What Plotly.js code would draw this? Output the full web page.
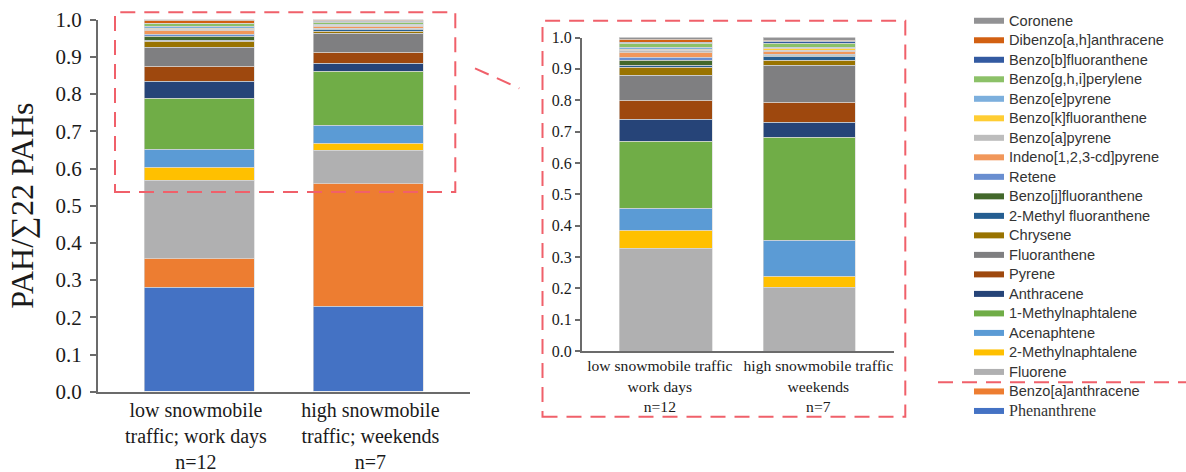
<!DOCTYPE html>
<html><head><meta charset="utf-8">
<script src="https://cdn.plot.ly/plotly-3.0.1.min.js"></script>
<style>html,body{margin:0;padding:0;background:#fff}#chart{width:1186px;height:472px}</style>
</head><body><div id="chart"></div>
<script>
// ---------- data ----------
const categoriesLeft = ["low snowmobile<br>traffic; work days<br>n=12", "high snowmobile<br>traffic; weekends<br>n=7"];
const categoriesInset = ["low snowmobile traffic<br>work days<br>n=12", "high snowmobile traffic<br>weekends<br>n=7"];
const seriesNames = ["Phenanthrene","Benzo[a]anthracene","Fluorene","2-Methylnaphtalene","Acenaphtene","1-Methylnaphtalene","Anthracene","Pyrene","Fluoranthene","Chrysene","2-Methyl fluoranthene","Benzo[j]fluoranthene","Retene","Indeno[1,2,3-cd]pyrene","Benzo[a]pyrene","Benzo[k]fluoranthene","Benzo[e]pyrene","Benzo[g,h,i]perylene","Benzo[b]fluoranthene","Dibenzo[a,h]anthracene","Coronene"];
const seriesColors = ["#4472C4","#ED7D31","#B0B0B1","#FFC000","#5B9BD5","#70AD47","#264478","#9E480E","#7F7F81","#997300","#255E91","#43682B","#698ED0","#F1975A","#BDBDBD","#FFCD33","#7CAFDD","#8CC168","#335AA1","#D26012","#929294"];
// left chart: all 21 PAHs (stack order bottom -> top)
const lowTrafficAll  = [0.280,0.077,0.210,0.036,0.047,0.138,0.046,0.040,0.052,0.014,0.004,0.010,0.007,0.009,0.004,0.003,0.003,0.008,0.002,0.006,0.004];
const highTrafficAll = [0.229,0.331,0.088,0.018,0.050,0.143,0.024,0.028,0.052,0.005,0.005,0.002,0.002,0.004,0.002,0.002,0.001,0.006,0.002,0.002,0.004];
// inset: without Phenanthrene and Benzo[a]anthracene (starts at Fluorene)
const lowTrafficInset  = [0.327,0.056,0.070,0.215,0.070,0.062,0.079,0.026,0.006,0.015,0.011,0.015,0.006,0.005,0.005,0.012,0.003,0.010,0.007];
const highTrafficInset = [0.202,0.037,0.115,0.328,0.048,0.064,0.117,0.015,0.013,0.004,0.004,0.008,0.005,0.004,0.003,0.015,0.004,0.004,0.010];
const yTitle = "PAH/∑22 PAHs";

// ---------- build ----------
const W = 1186, H = 472;
const px = v => v / W, py = v => 1 - v / H;
const serif = "Liberation Serif, Times New Roman, serif";
const axisCol = "#6b6b6b";
const edge = {color: "rgba(215,215,215,0.9)", width: 0.7};
const traces = [];
seriesNames.forEach((n, i) => {
  traces.push({type: "bar", x: [0, 1], y: [lowTrafficAll[i], highTrafficAll[i]], width: 0.65,
    xaxis: "x", yaxis: "y", name: n, showlegend: false, hoverinfo: "name+y",
    marker: {color: seriesColors[i], line: edge}});
});
const insetOffset = seriesNames.length - lowTrafficInset.length;
lowTrafficInset.forEach((v, j) => {
  const i = j + insetOffset;
  traces.push({type: "bar", x: [0, 1], y: [v, highTrafficInset[j]], width: 0.645,
    xaxis: "x2", yaxis: "y2", name: seriesNames[i], showlegend: false, hoverinfo: "name+y",
    marker: {color: seriesColors[i], line: edge}});
});
// legend entries (Coronene on top ... Phenanthrene at bottom)
for (let i = seriesNames.length - 1; i >= 0; i--) {
  const isSerif = seriesNames[i] === "Phenanthrene";
  const label = isSerif
    ? '<span style="font-family:Liberation Serif;font-size:16px">' + seriesNames[i] + '</span>'
    : '<span style="font-size:14.6px">' + seriesNames[i] + '</span>';
  traces.push({type: "scatter", mode: "lines", x: [null], y: [null], xaxis: "x", yaxis: "y",
    name: label, showlegend: true, hoverinfo: "skip", line: {color: seriesColors[i], width: 6}});
}

const dashRed = {color: "#F0606A", width: 2, dash: "15px,9px"};
const layout = {
  width: W, height: H, margin: {l: 0, r: 0, t: 0, b: 0},
  paper_bgcolor: "#fff", plot_bgcolor: "rgba(0,0,0,0)",
  barmode: "stack", bargap: 0,
  showlegend: true,
  legend: {x: px(969), xanchor: "left", y: py(6), yanchor: "top", traceorder: "normal",
    font: {family: "Liberation Sans, Arial, sans-serif", size: 12.7, color: "#333"},
    bgcolor: "rgba(0,0,0,0)", borderwidth: 0, tracegroupgap: 0, itemclick: false, itemdoubleclick: false},
  xaxis: {domain: [px(97.7), px(470.3)], range: [-0.6, 1.6], anchor: "y",
    tickmode: "array", tickvals: [-0.02, 1.01], ticktext: categoriesLeft, ticks: "", tickangle: 0,
    tickfont: {family: serif, size: 20, color: "#1a1a1a"},
    showline: true, linecolor: axisCol, linewidth: 1.5, showgrid: false, zeroline: false, automargin: false, fixedrange: true},
  xaxis3: {overlaying: "x", anchor: "y", range: [-0.6, 1.6], tickmode: "array", tickvals: [-0.6, 0.5, 1.6],
    ticks: "outside", ticklen: 7, tickwidth: 1.5, tickcolor: axisCol, showticklabels: false,
    showline: false, showgrid: false, zeroline: false, automargin: false, fixedrange: true},
  yaxis: {domain: [1 - 391.7 / H, 1 - 19.7 / H], range: [0, 1], anchor: "x",
    tickmode: "linear", tick0: 0, dtick: 0.1, tickformat: ".1f",
    ticks: "outside", ticklen: 6, tickwidth: 1.5, tickcolor: axisCol, ticklabelstandoff: 4,
    tickfont: {family: serif, size: 21, color: "#1a1a1a"},
    showline: true, linecolor: axisCol, linewidth: 1.5, showgrid: false, zeroline: false, automargin: false, fixedrange: true,
    title: {text: yTitle, font: {family: serif, size: 32, color: "#1a1a1a"}, standoff: 12}},
  xaxis2: {domain: [px(581.7), px(894.3)], range: [-0.59, 1.59], anchor: "y2",
    tickmode: "array", tickvals: [-0.045, 1.06], ticktext: categoriesInset, ticks: "", tickangle: 0,
    tickfont: {family: serif, size: 15.6, color: "#1a1a1a"},
    showline: true, linecolor: axisCol, linewidth: 1.5, showgrid: false, zeroline: false, automargin: false, fixedrange: true},
  xaxis4: {overlaying: "x2", anchor: "y2", range: [-0.59, 1.59], tickmode: "array", tickvals: [-0.59, 0.5, 1.59],
    ticks: "outside", ticklen: 6, tickwidth: 1.5, tickcolor: axisCol, showticklabels: false,
    showline: false, showgrid: false, zeroline: false, automargin: false, fixedrange: true},
  yaxis2: {domain: [1 - 351 / H, 1 - 37.5 / H], range: [0, 1], anchor: "x2",
    tickmode: "linear", tick0: 0, dtick: 0.1, tickformat: ".1f",
    ticks: "outside", ticklen: 5, tickwidth: 1.5, tickcolor: axisCol,
    tickfont: {family: serif, size: 16, color: "#1a1a1a"},
    showline: true, linecolor: axisCol, linewidth: 1.5, showgrid: false, zeroline: false, automargin: false, fixedrange: true},
  shapes: [
    {type: "rect", xref: "paper", yref: "paper", x0: px(115), x1: px(455.3), y0: py(192), y1: py(12.3), line: dashRed, fillcolor: "rgba(0,0,0,0)", layer: "above"},
    {type: "rect", xref: "paper", yref: "paper", x0: px(542.5), x1: px(905.3), y0: py(416.7), y1: py(20.7), line: dashRed, fillcolor: "rgba(0,0,0,0)", layer: "above"},
    {type: "line", xref: "paper", yref: "paper", x0: px(475), y0: py(68.3), x1: px(519.3), y1: py(88.3), line: dashRed},
    {type: "line", xref: "paper", yref: "paper", x0: px(938), y0: py(382.3), x1: 1, y1: py(382.3), line: dashRed}
  ]
};
Plotly.newPlot("chart", traces, layout, {displayModeBar: false, staticPlot: false, responsive: false});
</script>
</body></html>
